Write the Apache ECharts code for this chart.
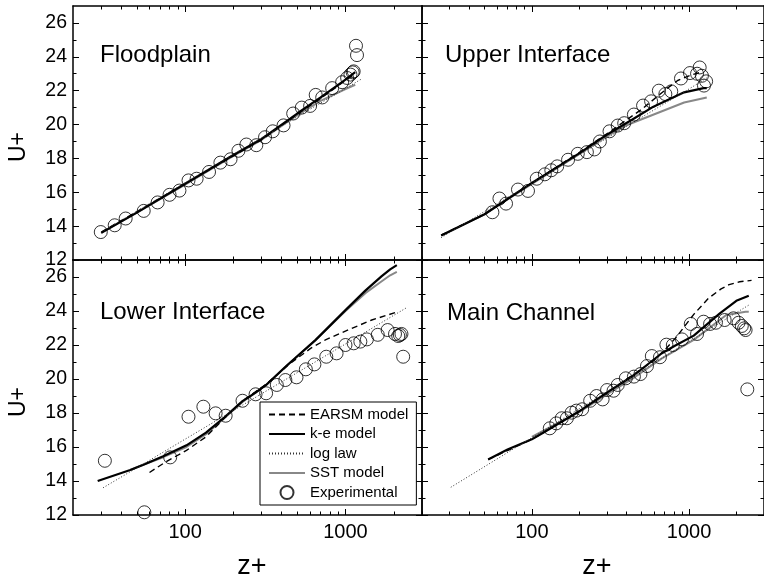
<!DOCTYPE html>
<html>
<head>
<meta charset="utf-8">
<script src="https://cdn.jsdelivr.net/npm/echarts@6/dist/echarts.min.js"></script>
<style>html,body{margin:0;padding:0;background:#fff}#c{width:764px;height:578px}</style>
</head>
<body>
<div id="c"></div>
<script>
// ---------- tick labels ----------
const X_MAJOR = [100, 1000];
const X_MINOR = [30, 40, 50, 60, 70, 80, 90, 200, 300, 400, 500, 600, 700, 800, 900, 2000, 3000];
const Y_MAJOR = [12, 14, 16, 18, 20, 22, 24, 26];
const Y_MINOR = [13, 15, 17, 19, 21, 23, 25];
const PANELS = ['Floodplain', 'Upper Interface', 'Lower Interface', 'Main Channel'];
const NAMES = ['EARSM model', 'k-e model', 'log law', 'SST model', 'Experimental'];

// ---------- Floodplain ----------
const fpExpX = [29.8, 36.4, 42.6, 55.2, 67.4, 80, 92.2, 105, 118, 141, 166, 192, 215, 241, 278, 315, 352, 411, 472, 534, 602, 652, 716, 826, 953, 1024, 1074, 1109, 1125, 1163, 1180];
const fpExpY = [13.65, 14.05, 14.45, 14.9, 15.4, 15.85, 16.1, 16.7, 16.8, 17.2, 17.75, 17.95, 18.45, 18.82, 18.78, 19.25, 19.6, 19.95, 20.65, 21.0, 21.1, 21.75, 21.6, 22.15, 22.5, 22.75, 22.95, 23.08, 23.14, 24.65, 24.1];
const fpKeX = [30, 50, 100, 200, 300, 500, 700, 1000, 1150];
const fpKeY = [13.6, 14.8, 16.5, 18.2, 19.15, 20.65, 21.6, 22.65, 23.1];
const fpEarsmX = [30, 50, 100, 200, 300, 500, 700, 1000, 1150];
const fpEarsmY = [13.65, 14.85, 16.5, 18.15, 19.1, 20.6, 21.55, 22.6, 23.0];
const fpSstX = [30, 50, 100, 200, 300, 500, 700, 1000, 1150];
const fpSstY = [13.6, 14.8, 16.45, 18.15, 19.1, 20.55, 21.4, 22.1, 22.35];
const fpLawX = [30, 100, 300, 1000, 1270];
const fpLawY = [13.65, 16.56, 19.22, 22.13, 22.71];

// ---------- Upper Interface ----------
const uiExpX = [56.1, 62.2, 68.5, 81.6, 94.5, 107.4, 121, 133, 145, 170, 196, 224, 250, 271, 312, 352, 387, 446, 510, 574, 643, 707, 771, 889, 1014, 1125, 1169, 1208, 1285, 1245];
const uiExpY = [14.82, 15.63, 15.33, 16.16, 16.08, 16.8, 17.06, 17.3, 17.53, 17.92, 18.27, 18.37, 18.53, 19.0, 19.6, 19.94, 20.08, 20.59, 21.12, 21.37, 22.0, 21.8, 21.96, 22.72, 23.04, 23.0, 23.37, 22.88, 22.55, 22.3];
const uiKeX = [26.5, 50, 100, 200, 300, 436, 580, 931, 1238, 1297];
const uiKeY = [13.45, 14.7, 16.55, 18.3, 19.4, 20.3, 21.0, 21.9, 22.15, 22.15];
const uiEarsmX = [26.5, 50, 100, 200, 300, 500, 718, 847, 1050, 1200];
const uiEarsmY = [13.47, 14.7, 16.55, 18.35, 19.45, 20.9, 22.1, 22.6, 22.95, 23.1];
const uiSstX = [26.5, 50, 100, 200, 300, 396, 580, 931, 1297];
const uiSstY = [13.45, 14.7, 16.5, 18.25, 19.3, 19.94, 20.55, 21.3, 21.6];
const uiLawX = [26.5, 100, 1000, 1297];
const uiLawY = [13.32, 16.55, 22.1, 22.75];

// ---------- Lower Interface ----------
const liExpX = [31.6, 55.7, 80.7, 105, 130, 155, 179, 228, 275, 320, 373, 422, 495, 566, 640, 759, 880, 1000, 1125, 1238, 1360, 1590, 1831, 2036, 2133, 2184, 2234, 2290];
const liExpY = [15.19, 12.16, 15.39, 17.78, 18.37, 17.98, 17.84, 18.72, 19.1, 19.16, 19.65, 19.94, 20.1, 20.57, 20.86, 21.31, 21.51, 22.0, 22.1, 22.2, 22.33, 22.6, 22.88, 22.65, 22.53, 22.59, 22.65, 21.31];
const liKeX = [28.5, 45.5, 56.4, 73, 102, 135, 176, 228, 275, 320, 426, 652, 1000, 1330, 1683, 1900, 2090];
const liKeY = [14.0, 14.65, 15.0, 15.45, 16.1, 16.85, 17.75, 18.7, 19.2, 19.65, 20.75, 22.3, 24.05, 25.2, 26.05, 26.45, 26.7];
const liEarsmX = [60, 75, 102, 135, 176, 228, 320, 450, 606, 750, 1047, 1458, 2133];
const liEarsmY = [14.5, 15.1, 15.8, 16.6, 17.7, 18.7, 19.7, 20.9, 21.8, 22.3, 22.9, 23.47, 23.96];
const liSstX = [45.5, 56.4, 73, 102, 135, 176, 228, 275, 320, 426, 652, 1000, 1330, 1683, 1900, 2090];
const liSstY = [14.65, 15.0, 15.4, 16.0, 16.75, 17.7, 18.65, 19.2, 19.65, 20.75, 22.3, 24.0, 25.05, 25.75, 26.1, 26.3];
const liLawX = [30.8, 100, 1000, 2380];
const liLawY = [13.6, 16.46, 22.06, 24.17];

// ---------- Main Channel ----------
const mcExpX = [130, 143, 155, 167, 179, 192, 209, 235, 258, 282, 301, 331, 352, 396, 446, 491, 540, 580, 653, 718, 789, 902, 1026, 1125, 1238, 1362, 1483, 1686, 1918, 2067, 2167, 2243, 2291, 2349];
const mcExpY = [17.1, 17.39, 17.69, 17.69, 18.02, 18.14, 18.22, 18.72, 19.0, 18.8, 19.35, 19.31, 19.65, 20.04, 20.14, 20.29, 20.76, 21.35, 21.28, 22.02, 22.0, 22.33, 23.24, 22.65, 23.37, 23.24, 23.31, 23.47, 23.57, 23.31, 23.12, 22.98, 22.88, 19.39];
const mcKeX = [52.7, 70, 100, 121, 200, 300, 450, 668, 808, 1072, 1571, 2000, 2400];
const mcKeY = [15.27, 15.85, 16.45, 16.9, 18.1, 19.2, 20.25, 21.5, 21.94, 22.55, 23.86, 24.6, 24.9];
const mcEarsmX = [52.7, 100, 200, 300, 450, 600, 700, 828, 1072, 1330, 1600, 1800, 2100, 2500];
const mcEarsmY = [15.27, 16.45, 18.1, 19.2, 20.3, 21.1, 21.7, 22.45, 23.8, 24.75, 25.3, 25.55, 25.72, 25.8];
const mcSstX = [100, 121, 200, 300, 450, 668, 1072, 1726, 2291, 2400];
const mcSstY = [16.6, 17.0, 18.05, 19.1, 20.1, 21.2, 22.3, 23.76, 23.96, 23.95];
const mcLawX = [30.5, 100, 1000, 2403];
const mcLawY = [13.63, 16.55, 22.2, 24.35];

// ---------- build ----------
const FONT = 'Liberation Sans, Arial, sans-serif';
const pairs = (xs, ys) => xs.map((x, i) => [x, ys[i]]);

const grids = [
  { left: 73, top: 6, width: 349, height: 254 },
  { left: 422, top: 6, width: 350, height: 254 },
  { left: 73, top: 260, width: 349, height: 255 },
  { left: 422, top: 260, width: 350, height: 255 }
];

const xAxes = [], yAxes = [];
grids.forEach((g, gi) => {
  const showX = gi >= 2, showY = gi % 2 === 0;
  const lineOn = { show: true, onZero: false, lineStyle: { color: '#000', width: 1.5 } };
  const lineOff = { show: false, onZero: false };
  const mk = (pos, line, ticks, len, labels) => ({
    type: 'log', logBase: 10, gridIndex: gi, min: 20, max: 3000, position: pos,
    axisLine: line,
    axisTick: { show: true, inside: true, length: len, customValues: ticks, lineStyle: { color: '#000', width: 1 } },
    axisLabel: labels ? { show: true, customValues: X_MAJOR, color: '#000', fontSize: 20, fontFamily: FONT, margin: 7, formatter: v => String(Math.round(v)) } : { show: false },
    splitLine: { show: false }, minorTick: { show: false }
  });
  xAxes.push(mk('bottom', lineOn, X_MAJOR, 6, showX));
  xAxes.push(mk('bottom', lineOff, X_MINOR, 3.5, false));
  xAxes.push(mk('top', lineOn, X_MAJOR, 6, false));
  xAxes.push(mk('top', lineOff, X_MINOR, 3.5, false));
  const mky = (pos, line, ticks, len, labels) => ({
    type: 'value', gridIndex: gi, min: 12, max: 27, position: pos,
    axisLine: line,
    axisTick: { show: true, inside: true, length: len, customValues: ticks, lineStyle: { color: '#000', width: 1 } },
    axisLabel: labels ? { show: true, customValues: Y_MAJOR, color: '#000', fontSize: 19.5, fontFamily: FONT, margin: 6 } : { show: false },
    splitLine: { show: false }, minorTick: { show: false }
  });
  yAxes.push(mky('left', lineOn, Y_MAJOR, 6, showY));
  yAxes.push(mky('left', lineOff, Y_MINOR, 3.5, false));
  yAxes.push(mky('right', lineOn, Y_MAJOR, 6, false));
  yAxes.push(mky('right', lineOff, Y_MINOR, 3.5, false));
});

const panelData = [
  [fpEarsmX, fpEarsmY, fpKeX, fpKeY, fpLawX, fpLawY, fpSstX, fpSstY, fpExpX, fpExpY],
  [uiEarsmX, uiEarsmY, uiKeX, uiKeY, uiLawX, uiLawY, uiSstX, uiSstY, uiExpX, uiExpY],
  [liEarsmX, liEarsmY, liKeX, liKeY, liLawX, liLawY, liSstX, liSstY, liExpX, liExpY],
  [mcEarsmX, mcEarsmY, mcKeX, mcKeY, mcLawX, mcLawY, mcSstX, mcSstY, mcExpX, mcExpY]
];
const lineStyles = [
  { color: '#000', width: 1.4, type: [6, 4] },
  { color: '#000', width: 2.2, type: 'solid' },
  { color: '#333', width: 1, type: [1, 2] },
  { color: '#888', width: 2, type: 'solid' }
];
const series = [];
panelData.forEach((d, gi) => {
  for (let k = 0; k < 4; k++) {
    series.push({
      type: 'line', name: NAMES[k], xAxisIndex: gi * 4, yAxisIndex: gi * 4,
      data: pairs(d[2 * k], d[2 * k + 1]),
      symbol: 'none', smooth: false,
      lineStyle: lineStyles[k], itemStyle: { color: lineStyles[k].color },
      z: k === 3 ? 2 : 3, silent: true
    });
  }
  series.push({
    type: 'scatter', name: NAMES[4], xAxisIndex: gi * 4, yAxisIndex: gi * 4,
    data: pairs(d[8], d[9]), symbol: 'circle', symbolSize: 13,
    itemStyle: { color: 'rgba(255,255,255,0)', borderColor: '#000', borderWidth: 1 },
    z: 5, silent: true
  });
});

const txt = (x, y, text, size, extra) => Object.assign({
  type: 'text', x: x, y: y, silent: true,
  style: { text: text, fill: '#000', font: size + 'px ' + FONT, verticalAlign: 'middle', align: 'left' }
}, extra || {});
const graphics = [
  txt(100, 55, PANELS[0], 24),
  txt(445, 55, PANELS[1], 24),
  txt(100, 312, PANELS[2], 24),
  txt(447, 313, PANELS[3], 24),
  { type: 'text', x: 19, y: 147, rotation: Math.PI / 2, silent: true, style: { text: 'U+', fill: '#000', font: '23px ' + FONT, align: 'center', verticalAlign: 'middle' } },
  { type: 'text', x: 19, y: 402, rotation: Math.PI / 2, silent: true, style: { text: 'U+', fill: '#000', font: '23px ' + FONT, align: 'center', verticalAlign: 'middle' } },
  { type: 'text', x: 252, y: 567, silent: true, style: { text: 'z+', fill: '#000', font: '27px ' + FONT, align: 'center', verticalAlign: 'middle' } },
  { type: 'text', x: 597, y: 567, silent: true, style: { text: 'z+', fill: '#000', font: '27px ' + FONT, align: 'center', verticalAlign: 'middle' } }
];

const hideSym = { color: 'rgba(0,0,0,0)', borderWidth: 0, borderColor: 'rgba(0,0,0,0)' };
const legendData = NAMES.map((n, i) => i < 4 ? { name: n, itemStyle: hideSym } : { name: n });

const chart = echarts.init(document.getElementById('c'), null, { renderer: 'canvas' });
chart.setOption({
  animation: false,
  backgroundColor: '#fff',
  grid: grids,
  xAxis: xAxes,
  yAxis: yAxes,
  legend: {
    data: legendData, orient: 'vertical', left: 260, top: 402,
    itemWidth: 36, itemHeight: 13, itemGap: 4.5, padding: [5, 8, 5, 8],
    borderColor: '#000', borderWidth: 1, backgroundColor: '#fff',
    textStyle: { fontSize: 15, fontFamily: FONT, color: '#000' },
    selectedMode: false
  },
  series: series,
  graphic: graphics
});
</script>
</body>
</html>
